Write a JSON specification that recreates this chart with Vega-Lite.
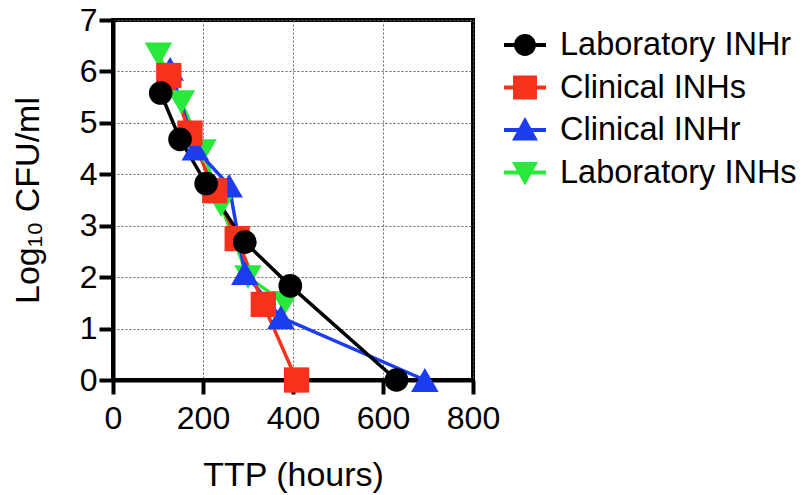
{
  "$schema": "https://vega.github.io/schema/vega-lite/v6.json",
  "width": 360,
  "height": 360,
  "autosize": {"type": "none"},
  "padding": {"left": 113, "top": 20, "right": 331, "bottom": 115},
  "background": "white",
  "config": {
    "font": "Liberation Sans",
    "view": {"stroke": "black", "strokeWidth": 4},
    "axis": {
      "domainColor": "black", "domainWidth": 4,
      "tickColor": "black", "tickWidth": 4, "tickSize": 14,
      "labelFont": "Liberation Sans", "labelFontSize": 32, "labelColor": "black",
      "titleFont": "Liberation Sans", "titleFontSize": 34, "titleFontWeight": "normal", "titleColor": "black",
      "gridColor": "#666666", "gridDash": [2, 2], "gridWidth": 1
    },
    "legend": {
      "labelFont": "Liberation Sans", "labelFontSize": 32.5, "labelColor": "black", "labelLimit": 0
    }
  },
  "data": {
    "values": [
      {"series": "Laboratory INHs", "ttp": 101, "cfu": 6.33},
      {"series": "Laboratory INHs", "ttp": 152, "cfu": 5.4},
      {"series": "Laboratory INHs", "ttp": 200, "cfu": 4.45},
      {"series": "Laboratory INHs", "ttp": 240, "cfu": 3.4},
      {"series": "Laboratory INHs", "ttp": 300, "cfu": 2.0},
      {"series": "Laboratory INHs", "ttp": 382, "cfu": 1.5},
      {"series": "Clinical INHr", "ttp": 127, "cfu": 6.05},
      {"series": "Clinical INHr", "ttp": 183, "cfu": 4.5},
      {"series": "Clinical INHr", "ttp": 258, "cfu": 3.78},
      {"series": "Clinical INHr", "ttp": 293, "cfu": 2.08},
      {"series": "Clinical INHr", "ttp": 373, "cfu": 1.22},
      {"series": "Clinical INHr", "ttp": 693, "cfu": 0},
      {"series": "Clinical INHs", "ttp": 124, "cfu": 5.92},
      {"series": "Clinical INHs", "ttp": 171, "cfu": 4.8},
      {"series": "Clinical INHs", "ttp": 226, "cfu": 3.68},
      {"series": "Clinical INHs", "ttp": 276, "cfu": 2.75},
      {"series": "Clinical INHs", "ttp": 334, "cfu": 1.47},
      {"series": "Clinical INHs", "ttp": 408, "cfu": 0},
      {"series": "Laboratory INHr", "ttp": 106, "cfu": 5.58},
      {"series": "Laboratory INHr", "ttp": 149, "cfu": 4.68},
      {"series": "Laboratory INHr", "ttp": 207, "cfu": 3.82},
      {"series": "Laboratory INHr", "ttp": 293, "cfu": 2.68},
      {"series": "Laboratory INHr", "ttp": 394, "cfu": 1.83},
      {"series": "Laboratory INHr", "ttp": 630, "cfu": 0}
    ]
  },
  "encoding": {
    "x": {
      "field": "ttp", "type": "quantitative", "title": "TTP (hours)",
      "scale": {"domain": [0, 800], "nice": false, "zero": false},
      "axis": {"values": [0, 200, 400, 600, 800], "labelPadding": 9, "titlePadding": 24, "labelFlush": false}
    },
    "y": {
      "field": "cfu", "type": "quantitative", "title": "Log₁₀ CFU/ml",
      "scale": {"domain": [0, 7], "nice": false, "zero": false},
      "axis": {"values": [0, 1, 2, 3, 4, 5, 6, 7], "labelPadding": 2, "titlePadding": 34, "labelFlush": false}
    },
    "color": {
      "field": "series", "type": "nominal",
      "scale": {
        "domain": ["Laboratory INHr", "Clinical INHs", "Clinical INHr", "Laboratory INHs"],
        "range": ["#000000", "#f7321c", "#1c3cf0", "#28e83c"]
      },
      "legend": {
        "title": null,
        "orient": "none",
        "legendX": 391,
        "legendY": 4,
        "padding": 0,
        "symbolSize": 1764,
        "rowPadding": 4.5,
        "labelOffset": 14,
        "encode": {
          "symbols": {
            "update": {
              "size": {"value": 1764},
              "strokeWidth": {"value": 0},
              "opacity": {"value": 1},
              "fillOpacity": {"value": 1},
              "fill": {"signal": "scale('color', datum.value)"},
              "shape": {"signal": "datum.value === 'Laboratory INHr' ? 'M-1,-0.09H1V0.09H-1Z M0.52,0A0.52,0.52,0,1,1,-0.52,0A0.52,0.52,0,1,1,0.52,0Z' : datum.value === 'Clinical INHs' ? 'M-1,-0.09H1V0.09H-1Z M-0.57,-0.57H0.57V0.57H-0.57Z' : datum.value === 'Clinical INHr' ? 'M-1,-0.09H1V0.09H-1Z M0,-0.62L0.62,0.5L-0.62,0.5Z' : 'M-1,-0.09H1V0.09H-1Z M-0.62,-0.5L0.62,-0.5L0,0.62Z'"}
            }
          }
        }
      }
    }
  },
  "layer": [
    {
      "mark": {"type": "line", "strokeWidth": 3.5}
    },
    {
      "mark": {"type": "point", "filled": true, "opacity": 1},
      "encoding": {
        "shape": {
          "condition": [
            {"test": "datum.series === 'Clinical INHs'", "value": "square"},
            {"test": "datum.series === 'Clinical INHr'", "value": "triangle-up"},
            {"test": "datum.series === 'Laboratory INHs'", "value": "triangle-down"}
          ],
          "value": "circle"
        },
        "size": {
          "condition": [
            {"test": "datum.series === 'Clinical INHs'", "value": 640},
            {"test": "datum.series === 'Clinical INHr'", "value": 760},
            {"test": "datum.series === 'Laboratory INHs'", "value": 760}
          ],
          "value": 560
        }
      }
    }
  ]
}
